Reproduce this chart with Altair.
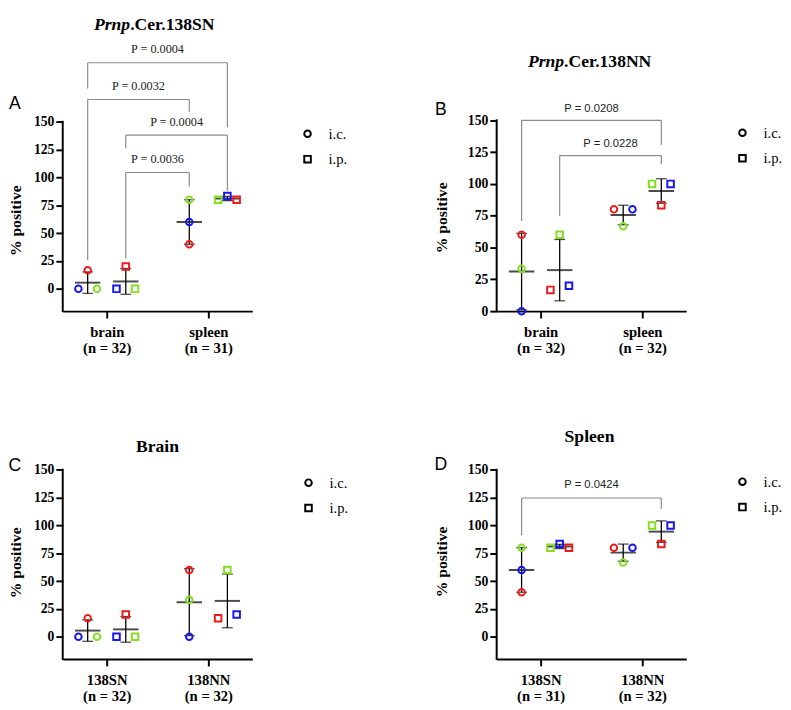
import altair as alt
import pandas as pd

SERIF = "Liberation Serif"
SANS = "Liberation Sans"

# ---------------- data ----------------
REPLICATES = ["blue", "red", "green"]
REP_COLORS = ["#1616ee", "#ee1a1a", "#82e01e"]
ROUTES = ["i.c.", "i.p."]
ROUTE_SHAPES = ["circle", "square"]
Y_TICKS = [0, 25, 50, 75, 100, 125, 150]

# Panel A  (Prnp.Cer.138SN)
A_TITLE = ["Prnp", ".Cer.138SN"]
A_CATS = ["brain", "spleen"]
A_N = ["(n = 32)", "(n = 31)"]
A_CAT = [0, 0, 0, 0, 0, 0, 1, 1, 1, 1, 1, 1]
A_ROUTE = ["i.c."] * 3 + ["i.p."] * 3 + ["i.c."] * 3 + ["i.p."] * 3
A_REP = ["blue", "red", "green"] * 4
A_VAL = [0, 16.7, 0, 0, 20, 0, 60, 40, 80, 83.3, 80, 80]
A_SLOT = [-1, 0, 1, -1, 0, 1, 0, 0, 0, 0, 1, -1]
A_BR_L_CAT = [0, 0, 0, 0]
A_BR_L_ROUTE = ["i.c.", "i.c.", "i.p.", "i.p."]
A_BR_R_CAT = [1, 1, 1, 1]
A_BR_R_ROUTE = ["i.p.", "i.c.", "i.p.", "i.c."]
A_BR_TOP = [203.0, 170.0, 138.0, 104.5]
A_BR_L_END = [180.0, 26.0, 126.0, 27.0]
A_BR_R_END = [145.0, 159.0, 88.0, 92.0]
A_BR_TEXT_Y = [215.0, 182.0, 150.0, 116.5]
A_BR_LABEL = ["P = 0.0004", "P = 0.0032", "P = 0.0004", "P = 0.0036"]

# Panel B  (Prnp.Cer.138NN)
B_TITLE = ["Prnp", ".Cer.138NN"]
B_CATS = ["brain", "spleen"]
B_N = ["(n = 32)", "(n = 32)"]
B_CAT = [0, 0, 0, 0, 0, 0, 1, 1, 1, 1, 1, 1]
B_ROUTE = ["i.c."] * 3 + ["i.p."] * 3 + ["i.c."] * 3 + ["i.p."] * 3
B_REP = ["blue", "red", "green"] * 4
B_VAL = [0, 60, 33.3, 20, 16.7, 60, 80, 80, 66.7, 100, 83.3, 100]
B_SLOT = [0, 0, 0, 1, -1, 0, 1, -1, 0, 1, 0, -1]
B_BR_L_CAT = [0, 0]
B_BR_L_ROUTE = ["i.c.", "i.p."]
B_BR_R_CAT = [1, 1]
B_BR_R_ROUTE = ["i.p.", "i.p."]
B_BR_TOP = [150.0, 122.3]
B_BR_L_END = [70.8, 74.6]
B_BR_R_END = [130.8, 115.4]
B_BR_TEXT_Y = [159.2, 131.5]
B_BR_LABEL = ["P = 0.0208", "P = 0.0228"]

# Panel C  (Brain)
C_TITLE = "Brain"
C_CATS = ["138SN", "138NN"]
C_N = ["(n = 32)", "(n = 32)"]
C_CAT = [0, 0, 0, 0, 0, 0, 1, 1, 1, 1, 1, 1]
C_ROUTE = ["i.c."] * 3 + ["i.p."] * 3 + ["i.c."] * 3 + ["i.p."] * 3
C_REP = ["blue", "red", "green"] * 4
C_VAL = [0, 16.7, 0, 0, 20, 0, 0, 60, 33.3, 20, 16.7, 60]
C_SLOT = [-1, 0, 1, -1, 0, 1, 0, 0, 0, 1, -1, 0]

# Panel D  (Spleen)
D_TITLE = "Spleen"
D_CATS = ["138SN", "138NN"]
D_N = ["(n = 31)", "(n = 32)"]
D_CAT = [0, 0, 0, 0, 0, 0, 1, 1, 1, 1, 1, 1]
D_ROUTE = ["i.c."] * 3 + ["i.p."] * 3 + ["i.c."] * 3 + ["i.p."] * 3
D_REP = ["blue", "red", "green"] * 4
D_VAL = [60, 40, 80, 83.3, 80, 80, 80, 80, 66.7, 100, 83.3, 100]
D_SLOT = [0, 0, 0, 0, 1, -1, 1, -1, 0, 1, 0, -1]
D_BR_L_CAT = [0]
D_BR_L_ROUTE = ["i.c."]
D_BR_R_CAT = [1]
D_BR_R_ROUTE = ["i.p."]
D_BR_TOP = [124.6]
D_BR_L_END = [91.2]
D_BR_R_END = [114.9]
D_BR_TEXT_Y = [136.0]
D_BR_LABEL = ["P = 0.0424"]

# ---------------- layout constants ----------------
ROUTE_OFF = 0.1875
SLOT_STEP = 0.0913
X_DOM = [0.567, 2.433]
PANEL_W = 194


def gx(cat, route):
    return cat + 1 + (-ROUTE_OFF if route == "i.c." else ROUTE_OFF)


def make_panel(cats, ns, cat, route, rep, val, slot, ydom, axis_lo, height,
               title_layers, letter, letter_xy, ytitle_xy, legend_xy,
               brackets=None, p_font=SANS, p_size=11.5):
    pts = pd.DataFrame({"cat": cat, "route": route, "rep": rep, "v": val, "slot": slot})
    pts["g"] = [gx(c, r) for c, r in zip(pts["cat"], pts["route"])]
    pts["x"] = pts["g"] + pts["slot"] * SLOT_STEP

    label_expr = (f"datum.value == 1 ? ['{cats[0]}', '{ns[0]}'] : ['{cats[1]}', '{ns[1]}']")
    xscale = alt.Scale(domain=X_DOM, nice=False, zero=False)
    yscale = alt.Scale(domain=ydom, nice=False, zero=False)
    xaxis = alt.Axis(values=[1, 2], labelExpr=label_expr, title=None, grid=False,
                     domainColor="black", domainWidth=2, tickColor="black", tickWidth=2,
                     tickSize=7, labelFont=SERIF, labelFontWeight="bold", labelFontSize=15,
                     labelLineHeight=16.5, labelPadding=7, labelColor="black",
                     labelOverlap=False, tickCount=10)
    yaxis = alt.Axis(values=Y_TICKS, tickCount=20, domain=False, grid=False, tickColor="black",
                     tickWidth=2, tickSize=7, labelFont=SERIF, labelFontWeight="bold",
                     labelFontSize=14, labelPadding=2, labelColor="black", labelOverlap=False,
                     labelFlush=False, title="% positive",
                     titleFont=SERIF, titleFontWeight="bold", titleFontSize=16,
                     titleColor="black", titleAngle=270, titleAlign="center",
                     titleBaseline="middle", titleX=ytitle_xy[0], titleY=ytitle_xy[1])

    base = alt.Chart(pts)
    points = base.mark_point(filled=False, strokeWidth=2, size=45, opacity=1).encode(
        x=alt.X("x:Q", scale=xscale, axis=xaxis),
        y=alt.Y("v:Q", scale=yscale, axis=yaxis),
        shape=alt.Shape("route:N", scale=alt.Scale(domain=ROUTES, range=ROUTE_SHAPES),
                        legend=alt.Legend(orient="none", legendX=legend_xy[0],
                                          legendY=legend_xy[1], title=None, padding=0,
                                          rowPadding=10, labelFont=SERIF, labelFontSize=15,
                                          labelColor="black", symbolSize=45,
                                          symbolStrokeWidth=2, symbolStrokeColor="black",
                                          symbolFillColor="transparent", labelOffset=14)),
        color=alt.Color("rep:N", scale=alt.Scale(domain=REPLICATES, range=REP_COLORS), legend=None),
    )

    stats = base.transform_aggregate(m="mean(v)", s="stdev(v)", groupby=["g"]).transform_calculate(
        lo="datum.m - datum.s", hi="datum.m + datum.s")
    bar = stats.mark_rule(color="black", strokeWidth=1.3).encode(
        x=alt.X("g:Q", scale=xscale), y=alt.Y("lo:Q", scale=yscale), y2="hi:Q")
    cap_lo = stats.mark_tick(orient="horizontal", size=11, thickness=1.3, color="black").encode(
        x=alt.X("g:Q", scale=xscale), y=alt.Y("lo:Q", scale=yscale))
    cap_hi = stats.mark_tick(orient="horizontal", size=11, thickness=1.3, color="black").encode(
        x=alt.X("g:Q", scale=xscale), y=alt.Y("hi:Q", scale=yscale))
    mean = stats.mark_tick(orient="horizontal", size=26, thickness=2, color="black").encode(
        x=alt.X("g:Q", scale=xscale), y=alt.Y("m:Q", scale=yscale))

    yline = alt.Chart(pd.DataFrame({"lo": [axis_lo], "hi": [150]})).mark_rule(
        color="black", strokeWidth=2, strokeCap="square").encode(
        x=alt.value(0), y=alt.Y("lo:Q", scale=yscale), y2="hi:Q")

    letter_mark = alt.Chart(pd.DataFrame({"t": [letter]})).mark_text(
        font=SANS, fontSize=18, color="black", align="center", baseline="middle").encode(
        text="t:N", x=alt.value(letter_xy[0]), y=alt.value(letter_xy[1]))

    layers = [yline, bar, cap_lo, cap_hi, mean, points, letter_mark] + title_layers

    if brackets is not None:
        lc, lr, rc, rr, top, lend, rend, ty, lab = brackets
        br = pd.DataFrame({"top": top, "lend": lend, "rend": rend, "ty": ty, "lab": lab})
        br["x1"] = [gx(c, r) for c, r in zip(lc, lr)]
        br["x2"] = [gx(c, r) for c, r in zip(rc, rr)]
        br["tx"] = (br["x1"] + br["x2"]) / 2
        bb = alt.Chart(br)
        col = "#8a8a8a"
        h = bb.mark_rule(color=col, strokeWidth=1.2).encode(
            x=alt.X("x1:Q", scale=xscale), x2="x2:Q", y=alt.Y("top:Q", scale=yscale))
        l1 = bb.mark_rule(color=col, strokeWidth=1.2).encode(
            x=alt.X("x1:Q", scale=xscale), y=alt.Y("top:Q", scale=yscale), y2="lend:Q")
        l2 = bb.mark_rule(color=col, strokeWidth=1.2).encode(
            x=alt.X("x2:Q", scale=xscale), y=alt.Y("top:Q", scale=yscale), y2="rend:Q")
        tx = bb.mark_text(font=p_font, fontSize=p_size, color="#222222", align="center",
                          baseline="middle").encode(
            x=alt.X("tx:Q", scale=xscale), y=alt.Y("ty:Q", scale=yscale), text="lab:N")
        layers = [h, l1, l2, tx] + layers

    return alt.layer(*layers).properties(width=PANEL_W, height=height)


def mixed_title(parts, split_x, y, baseline):
    a = alt.Chart(pd.DataFrame({"t": [parts[0]]})).mark_text(
        font=SERIF, fontSize=18, fontWeight="bold", fontStyle="italic", color="black",
        align="right", baseline=baseline).encode(text="t:N", x=alt.value(split_x), y=alt.value(y))
    b = alt.Chart(pd.DataFrame({"t": [parts[1]]})).mark_text(
        font=SERIF, fontSize=18, fontWeight="bold", color="black",
        align="left", baseline=baseline).encode(text="t:N", x=alt.value(split_x), y=alt.value(y))
    return [a, b]


def plain_title(text, cx, y):
    return [alt.Chart(pd.DataFrame({"t": [text]})).mark_text(
        font=SERIF, fontSize=18, fontWeight="bold", color="black",
        align="center", baseline="middle").encode(text="t:N", x=alt.value(cx), y=alt.value(y))]


panel_a = make_panel(A_CATS, A_N, A_CAT, A_ROUTE, A_REP, A_VAL, A_SLOT, [-20, 245], -20, 302,
                     mixed_title(A_TITLE, 69, 14, "alphabetic"), "A", (-49, 90), (-48, 209),
                     (243, 113),
                     brackets=(A_BR_L_CAT, A_BR_L_ROUTE, A_BR_R_CAT, A_BR_R_ROUTE, A_BR_TOP,
                               A_BR_L_END, A_BR_R_END, A_BR_TEXT_Y, A_BR_LABEL),
                     p_font=SERIF, p_size=12.5)
panel_b = make_panel(B_CATS, B_N, B_CAT, B_ROUTE, B_REP, B_VAL, B_SLOT, [0, 232], 0, 302,
                     mixed_title(B_TITLE, 69, 47, "middle"), "B", (-57, 96), (-56, 206),
                     (244, 112),
                     brackets=(B_BR_L_CAT, B_BR_L_ROUTE, B_BR_R_CAT, B_BR_R_ROUTE, B_BR_TOP,
                               B_BR_L_END, B_BR_R_END, B_BR_TEXT_Y, B_BR_LABEL))
panel_c = make_panel(C_CATS, C_N, C_CAT, C_ROUTE, C_REP, C_VAL, C_SLOT, [-20, 188], -20, 237,
                     plain_title(C_TITLE, 97, 20), "C", (-49, 40), (-48, 138), (244, 49))
panel_d = make_panel(D_CATS, D_N, D_CAT, D_ROUTE, D_REP, D_VAL, D_SLOT, [-20, 188], -20, 237,
                     plain_title(D_TITLE, 95, 10), "D", (-57, 39), (-56, 137), (244, 48),
                     brackets=(D_BR_L_CAT, D_BR_L_ROUTE, D_BR_R_CAT, D_BR_R_ROUTE, D_BR_TOP,
                               D_BR_L_END, D_BR_R_END, D_BR_TEXT_Y, D_BR_LABEL))

chart = alt.concat(panel_a, panel_b, panel_c, panel_d, columns=2,
                   spacing={"row": 119, "column": 250}, bounds="flush").resolve_scale(
    shape="independent", color="independent").resolve_legend(
    shape="independent", color="independent").properties(padding=0).configure(
    background="white", font=SERIF).configure_view(stroke="transparent", strokeWidth=0
).configure_axis(labelFont=SERIF, titleFont=SERIF)

chart.save("out.html", embed_options={"renderer": "svg", "actions": False})
